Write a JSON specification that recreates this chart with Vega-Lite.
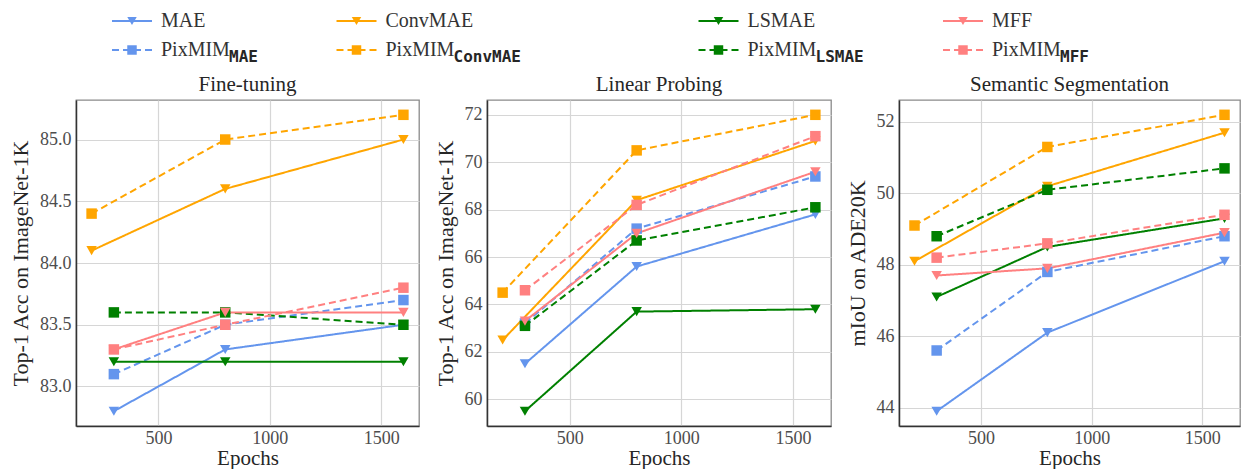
{
  "$schema": "https://vega.github.io/schema/vega-lite/v6.json",
  "background": "white",
  "padding": {"left": 8, "top": 0, "right": 0, "bottom": 0},
  "datasets": {
    "legend": [
      {"family": "MAE", "variant": "base", "label": "MAE", "sub": ""},
      {"family": "ConvMAE", "variant": "base", "label": "ConvMAE", "sub": ""},
      {"family": "LSMAE", "variant": "base", "label": "LSMAE", "sub": ""},
      {"family": "MFF", "variant": "base", "label": "MFF", "sub": ""},
      {"family": "MAE", "variant": "PixMIM", "label": "PixMIM", "sub": "MAE"},
      {"family": "ConvMAE", "variant": "PixMIM", "label": "PixMIM", "sub": "ConvMAE"},
      {"family": "LSMAE", "variant": "PixMIM", "label": "PixMIM", "sub": "LSMAE"},
      {"family": "MFF", "variant": "PixMIM", "label": "PixMIM", "sub": "MFF"}
    ],
    "vals": [
      {"task": "ft", "family": "MAE", "variant": "base", "epoch": 300, "value": 82.8},
      {"task": "ft", "family": "MAE", "variant": "base", "epoch": 800, "value": 83.3},
      {"task": "ft", "family": "MAE", "variant": "base", "epoch": 1600, "value": 83.5},
      {"task": "ft", "family": "MAE", "variant": "PixMIM", "epoch": 300, "value": 83.1},
      {"task": "ft", "family": "MAE", "variant": "PixMIM", "epoch": 800, "value": 83.5},
      {"task": "ft", "family": "MAE", "variant": "PixMIM", "epoch": 1600, "value": 83.7},
      {"task": "ft", "family": "ConvMAE", "variant": "base", "epoch": 200, "value": 84.1},
      {"task": "ft", "family": "ConvMAE", "variant": "base", "epoch": 800, "value": 84.6},
      {"task": "ft", "family": "ConvMAE", "variant": "base", "epoch": 1600, "value": 85.0},
      {"task": "ft", "family": "ConvMAE", "variant": "PixMIM", "epoch": 200, "value": 84.4},
      {"task": "ft", "family": "ConvMAE", "variant": "PixMIM", "epoch": 800, "value": 85.0},
      {"task": "ft", "family": "ConvMAE", "variant": "PixMIM", "epoch": 1600, "value": 85.2},
      {"task": "ft", "family": "LSMAE", "variant": "base", "epoch": 300, "value": 83.2},
      {"task": "ft", "family": "LSMAE", "variant": "base", "epoch": 800, "value": 83.2},
      {"task": "ft", "family": "LSMAE", "variant": "base", "epoch": 1600, "value": 83.2},
      {"task": "ft", "family": "LSMAE", "variant": "PixMIM", "epoch": 300, "value": 83.6},
      {"task": "ft", "family": "LSMAE", "variant": "PixMIM", "epoch": 800, "value": 83.6},
      {"task": "ft", "family": "LSMAE", "variant": "PixMIM", "epoch": 1600, "value": 83.5},
      {"task": "ft", "family": "MFF", "variant": "base", "epoch": 300, "value": 83.3},
      {"task": "ft", "family": "MFF", "variant": "base", "epoch": 800, "value": 83.6},
      {"task": "ft", "family": "MFF", "variant": "base", "epoch": 1600, "value": 83.6},
      {"task": "ft", "family": "MFF", "variant": "PixMIM", "epoch": 300, "value": 83.3},
      {"task": "ft", "family": "MFF", "variant": "PixMIM", "epoch": 800, "value": 83.5},
      {"task": "ft", "family": "MFF", "variant": "PixMIM", "epoch": 1600, "value": 83.8},

      {"task": "lp", "family": "MAE", "variant": "base", "epoch": 300, "value": 61.5},
      {"task": "lp", "family": "MAE", "variant": "base", "epoch": 800, "value": 65.6},
      {"task": "lp", "family": "MAE", "variant": "base", "epoch": 1600, "value": 67.8},
      {"task": "lp", "family": "MAE", "variant": "PixMIM", "epoch": 300, "value": 63.2},
      {"task": "lp", "family": "MAE", "variant": "PixMIM", "epoch": 800, "value": 67.2},
      {"task": "lp", "family": "MAE", "variant": "PixMIM", "epoch": 1600, "value": 69.4},
      {"task": "lp", "family": "ConvMAE", "variant": "base", "epoch": 200, "value": 62.5},
      {"task": "lp", "family": "ConvMAE", "variant": "base", "epoch": 800, "value": 68.4},
      {"task": "lp", "family": "ConvMAE", "variant": "base", "epoch": 1600, "value": 70.9},
      {"task": "lp", "family": "ConvMAE", "variant": "PixMIM", "epoch": 200, "value": 64.5},
      {"task": "lp", "family": "ConvMAE", "variant": "PixMIM", "epoch": 800, "value": 70.5},
      {"task": "lp", "family": "ConvMAE", "variant": "PixMIM", "epoch": 1600, "value": 72.0},
      {"task": "lp", "family": "LSMAE", "variant": "base", "epoch": 300, "value": 59.5},
      {"task": "lp", "family": "LSMAE", "variant": "base", "epoch": 800, "value": 63.7},
      {"task": "lp", "family": "LSMAE", "variant": "base", "epoch": 1600, "value": 63.8},
      {"task": "lp", "family": "LSMAE", "variant": "PixMIM", "epoch": 300, "value": 63.1},
      {"task": "lp", "family": "LSMAE", "variant": "PixMIM", "epoch": 800, "value": 66.7},
      {"task": "lp", "family": "LSMAE", "variant": "PixMIM", "epoch": 1600, "value": 68.1},
      {"task": "lp", "family": "MFF", "variant": "base", "epoch": 300, "value": 63.3},
      {"task": "lp", "family": "MFF", "variant": "base", "epoch": 800, "value": 67.0},
      {"task": "lp", "family": "MFF", "variant": "base", "epoch": 1600, "value": 69.6},
      {"task": "lp", "family": "MFF", "variant": "PixMIM", "epoch": 300, "value": 64.6},
      {"task": "lp", "family": "MFF", "variant": "PixMIM", "epoch": 800, "value": 68.2},
      {"task": "lp", "family": "MFF", "variant": "PixMIM", "epoch": 1600, "value": 71.1},

      {"task": "seg", "family": "MAE", "variant": "base", "epoch": 300, "value": 43.9},
      {"task": "seg", "family": "MAE", "variant": "base", "epoch": 800, "value": 46.1},
      {"task": "seg", "family": "MAE", "variant": "base", "epoch": 1600, "value": 48.1},
      {"task": "seg", "family": "MAE", "variant": "PixMIM", "epoch": 300, "value": 45.6},
      {"task": "seg", "family": "MAE", "variant": "PixMIM", "epoch": 800, "value": 47.8},
      {"task": "seg", "family": "MAE", "variant": "PixMIM", "epoch": 1600, "value": 48.8},
      {"task": "seg", "family": "ConvMAE", "variant": "base", "epoch": 200, "value": 48.1},
      {"task": "seg", "family": "ConvMAE", "variant": "base", "epoch": 800, "value": 50.2},
      {"task": "seg", "family": "ConvMAE", "variant": "base", "epoch": 1600, "value": 51.7},
      {"task": "seg", "family": "ConvMAE", "variant": "PixMIM", "epoch": 200, "value": 49.1},
      {"task": "seg", "family": "ConvMAE", "variant": "PixMIM", "epoch": 800, "value": 51.3},
      {"task": "seg", "family": "ConvMAE", "variant": "PixMIM", "epoch": 1600, "value": 52.2},
      {"task": "seg", "family": "LSMAE", "variant": "base", "epoch": 300, "value": 47.1},
      {"task": "seg", "family": "LSMAE", "variant": "base", "epoch": 800, "value": 48.5},
      {"task": "seg", "family": "LSMAE", "variant": "base", "epoch": 1600, "value": 49.3},
      {"task": "seg", "family": "LSMAE", "variant": "PixMIM", "epoch": 300, "value": 48.8},
      {"task": "seg", "family": "LSMAE", "variant": "PixMIM", "epoch": 800, "value": 50.1},
      {"task": "seg", "family": "LSMAE", "variant": "PixMIM", "epoch": 1600, "value": 50.7},
      {"task": "seg", "family": "MFF", "variant": "base", "epoch": 300, "value": 47.7},
      {"task": "seg", "family": "MFF", "variant": "base", "epoch": 800, "value": 47.9},
      {"task": "seg", "family": "MFF", "variant": "base", "epoch": 1600, "value": 48.9},
      {"task": "seg", "family": "MFF", "variant": "PixMIM", "epoch": 300, "value": 48.2},
      {"task": "seg", "family": "MFF", "variant": "PixMIM", "epoch": 800, "value": 48.6},
      {"task": "seg", "family": "MFF", "variant": "PixMIM", "epoch": 1600, "value": 49.4}
    ]
  },
  "config": {
    "font": "Liberation Serif",
    "view": {"stroke": "#8a8a8a", "strokeWidth": 1.3},
    "title": {"font": "Liberation Serif", "fontSize": 21, "fontWeight": "normal", "color": "#262626", "offset": 5},
    "axis": {
      "labelFont": "Liberation Serif", "labelFontSize": 18, "labelColor": "#4d4d4d",
      "titleFont": "Liberation Serif", "titleFontSize": 22, "titleFontWeight": "normal", "titleColor": "#262626",
      "ticks": false, "tickSize": 0, "labelPadding": 5, "titlePadding": 7,
      "domainColor": "#333333", "domainWidth": 1.5,
      "gridColor": "#d6d6d6", "gridWidth": 1.2
    },
    "axisX": {"labelPadding": 3, "titlePadding": 0, "titleFontSize": 21},
    "line": {"strokeWidth": 2},
    "point": {"size": 110, "opacity": 1}
  },
  "spacing": 3,
  "vconcat": [
    {
      "data": {"name": "legend"},
      "spacing": 0,
      "bounds": "flush",
      "hconcat": [
        {
          "width": 112, "height": 70, "view": {"stroke": null},
          "transform": [{"filter": "datum.family == 'MAE'"}],
          "encoding": {
            "y": {"field": "variant", "type": "nominal", "scale": {"domain": ["base", "PixMIM"], "range": [21, 50], "padding": 0}, "axis": null},
            "color": {"field": "family", "type": "nominal", "scale": {"domain": ["MAE", "ConvMAE", "LSMAE", "MFF"], "range": ["#6495ed", "#ffa500", "#008000", "#ff8080"]}, "legend": null}
          },
          "layer": [
            {"mark": {"type": "point", "shape": "M-1,0L1,0", "size": 1600, "filled": false, "strokeWidth": 2}, "encoding": {"strokeDash": {"field": "variant", "type": "nominal", "scale": {"domain": ["base", "PixMIM"], "range": [[1, 0], [7, 4]]}, "legend": null}}},
            {"mark": {"type": "point", "filled": true, "size": 90}, "encoding": {"shape": {"field": "variant", "type": "nominal", "scale": {"domain": ["base", "PixMIM"], "range": ["triangle-down", "square"]}, "legend": null}}},
            {"mark": {"type": "text", "align": "left", "baseline": "middle", "dx": 29, "fontSize": 20}, "encoding": {"text": {"field": "label"}, "color": {"value": "#333333"}}},
            {"mark": {"type": "text", "align": "left", "baseline": "middle", "dx": 97, "dy": 7, "font": "DejaVu Sans Mono", "fontWeight": "bold", "fontSize": 16}, "encoding": {"text": {"field": "sub"}, "color": {"value": "#262626"}}}
          ]
        },
        {
          "width": 337, "height": 70, "view": {"stroke": null},
          "transform": [{"filter": "datum.family == 'ConvMAE'"}],
          "encoding": {
            "y": {"field": "variant", "type": "nominal", "scale": {"domain": ["base", "PixMIM"], "range": [21, 50], "padding": 0}, "axis": null},
            "color": {"field": "family", "type": "nominal", "scale": {"domain": ["MAE", "ConvMAE", "LSMAE", "MFF"], "range": ["#6495ed", "#ffa500", "#008000", "#ff8080"]}, "legend": null}
          },
          "layer": [
            {"mark": {"type": "point", "shape": "M-1,0L1,0", "size": 1600, "filled": false, "strokeWidth": 2}, "encoding": {"strokeDash": {"field": "variant", "type": "nominal", "scale": {"domain": ["base", "PixMIM"], "range": [[1, 0], [7, 4]]}, "legend": null}}},
            {"mark": {"type": "point", "filled": true, "size": 90}, "encoding": {"shape": {"field": "variant", "type": "nominal", "scale": {"domain": ["base", "PixMIM"], "range": ["triangle-down", "square"]}, "legend": null}}},
            {"mark": {"type": "text", "align": "left", "baseline": "middle", "dx": 29, "fontSize": 20}, "encoding": {"text": {"field": "label"}, "color": {"value": "#333333"}}},
            {"mark": {"type": "text", "align": "left", "baseline": "middle", "dx": 97, "dy": 7, "font": "DejaVu Sans Mono", "fontWeight": "bold", "fontSize": 16}, "encoding": {"text": {"field": "sub"}, "color": {"value": "#262626"}}}
          ]
        },
        {
          "width": 387, "height": 70, "view": {"stroke": null},
          "transform": [{"filter": "datum.family == 'LSMAE'"}],
          "encoding": {
            "y": {"field": "variant", "type": "nominal", "scale": {"domain": ["base", "PixMIM"], "range": [21, 50], "padding": 0}, "axis": null},
            "color": {"field": "family", "type": "nominal", "scale": {"domain": ["MAE", "ConvMAE", "LSMAE", "MFF"], "range": ["#6495ed", "#ffa500", "#008000", "#ff8080"]}, "legend": null}
          },
          "layer": [
            {"mark": {"type": "point", "shape": "M-1,0L1,0", "size": 1600, "filled": false, "strokeWidth": 2}, "encoding": {"strokeDash": {"field": "variant", "type": "nominal", "scale": {"domain": ["base", "PixMIM"], "range": [[1, 0], [7, 4]]}, "legend": null}}},
            {"mark": {"type": "point", "filled": true, "size": 90}, "encoding": {"shape": {"field": "variant", "type": "nominal", "scale": {"domain": ["base", "PixMIM"], "range": ["triangle-down", "square"]}, "legend": null}}},
            {"mark": {"type": "text", "align": "left", "baseline": "middle", "dx": 29, "fontSize": 20}, "encoding": {"text": {"field": "label"}, "color": {"value": "#333333"}}},
            {"mark": {"type": "text", "align": "left", "baseline": "middle", "dx": 97, "dy": 7, "font": "DejaVu Sans Mono", "fontWeight": "bold", "fontSize": 16}, "encoding": {"text": {"field": "sub"}, "color": {"value": "#262626"}}}
          ]
        },
        {
          "width": 102, "height": 70, "view": {"stroke": null},
          "transform": [{"filter": "datum.family == 'MFF'"}],
          "encoding": {
            "y": {"field": "variant", "type": "nominal", "scale": {"domain": ["base", "PixMIM"], "range": [21, 50], "padding": 0}, "axis": null},
            "color": {"field": "family", "type": "nominal", "scale": {"domain": ["MAE", "ConvMAE", "LSMAE", "MFF"], "range": ["#6495ed", "#ffa500", "#008000", "#ff8080"]}, "legend": null}
          },
          "layer": [
            {"mark": {"type": "point", "shape": "M-1,0L1,0", "size": 1600, "filled": false, "strokeWidth": 2}, "encoding": {"strokeDash": {"field": "variant", "type": "nominal", "scale": {"domain": ["base", "PixMIM"], "range": [[1, 0], [7, 4]]}, "legend": null}}},
            {"mark": {"type": "point", "filled": true, "size": 90}, "encoding": {"shape": {"field": "variant", "type": "nominal", "scale": {"domain": ["base", "PixMIM"], "range": ["triangle-down", "square"]}, "legend": null}}},
            {"mark": {"type": "text", "align": "left", "baseline": "middle", "dx": 29, "fontSize": 20}, "encoding": {"text": {"field": "label"}, "color": {"value": "#333333"}}},
            {"mark": {"type": "text", "align": "left", "baseline": "middle", "dx": 97, "dy": 7, "font": "DejaVu Sans Mono", "fontWeight": "bold", "fontSize": 16}, "encoding": {"text": {"field": "sub"}, "color": {"value": "#262626"}}}
          ]
        }
      ]
    },
    {
      "data": {"name": "vals"},
      "spacing": 68,
      "bounds": "flush",
      "resolve": {"scale": {"y": "independent"}},
      "hconcat": [
        {
          "width": 343, "height": 326,
          "title": "Fine-tuning",
          "transform": [{"filter": "datum.task == 'ft'"}],
          "encoding": {
            "x": {"field": "epoch", "type": "quantitative", "scale": {"domain": [130, 1670], "nice": false, "zero": false}, "axis": {"values": [500, 1000, 1500], "format": "d", "title": "Epochs"}},
            "y": {"field": "value", "type": "quantitative", "scale": {"domain": [82.68, 85.32], "nice": false, "zero": false}, "axis": {"values": [83.0, 83.5, 84.0, 84.5, 85.0], "format": ".1f", "title": "Top-1 Acc on ImageNet-1K"}},
            "color": {"field": "family", "type": "nominal", "scale": {"domain": ["MAE", "ConvMAE", "LSMAE", "MFF"], "range": ["#6495ed", "#ffa500", "#008000", "#ff8080"]}, "legend": null}
          },
          "layer": [
            {"mark": {"type": "line", "strokeWidth": 2}, "encoding": {"strokeDash": {"field": "variant", "type": "nominal", "scale": {"domain": ["base", "PixMIM"], "range": [[1, 0], [7, 4]]}, "legend": null}}},
            {"mark": {"type": "point", "filled": true}, "encoding": {"shape": {"field": "variant", "type": "nominal", "scale": {"domain": ["base", "PixMIM"], "range": ["triangle-down", "square"]}, "legend": null}}}
          ]
        },
        {
          "width": 344, "height": 326,
          "title": "Linear Probing",
          "transform": [{"filter": "datum.task == 'lp'"}],
          "encoding": {
            "x": {"field": "epoch", "type": "quantitative", "scale": {"domain": [130, 1670], "nice": false, "zero": false}, "axis": {"values": [500, 1000, 1500], "format": "d", "title": "Epochs"}},
            "y": {"field": "value", "type": "quantitative", "scale": {"domain": [58.875, 72.625], "nice": false, "zero": false}, "axis": {"values": [60, 62, 64, 66, 68, 70, 72], "title": "Top-1 Acc on ImageNet-1K"}},
            "color": {"field": "family", "type": "nominal", "scale": {"domain": ["MAE", "ConvMAE", "LSMAE", "MFF"], "range": ["#6495ed", "#ffa500", "#008000", "#ff8080"]}, "legend": null}
          },
          "layer": [
            {"mark": {"type": "line", "strokeWidth": 2}, "encoding": {"strokeDash": {"field": "variant", "type": "nominal", "scale": {"domain": ["base", "PixMIM"], "range": [[1, 0], [7, 4]]}, "legend": null}}},
            {"mark": {"type": "point", "filled": true}, "encoding": {"shape": {"field": "variant", "type": "nominal", "scale": {"domain": ["base", "PixMIM"], "range": ["triangle-down", "square"]}, "legend": null}}}
          ]
        },
        {
          "width": 341, "height": 326,
          "title": "Semantic Segmentation",
          "transform": [{"filter": "datum.task == 'seg'"}],
          "encoding": {
            "x": {"field": "epoch", "type": "quantitative", "scale": {"domain": [130, 1670], "nice": false, "zero": false}, "axis": {"values": [500, 1000, 1500], "format": "d", "title": "Epochs"}},
            "y": {"field": "value", "type": "quantitative", "scale": {"domain": [43.485, 52.615], "nice": false, "zero": false}, "axis": {"values": [44, 46, 48, 50, 52], "title": "mIoU on ADE20K"}},
            "color": {"field": "family", "type": "nominal", "scale": {"domain": ["MAE", "ConvMAE", "LSMAE", "MFF"], "range": ["#6495ed", "#ffa500", "#008000", "#ff8080"]}, "legend": null}
          },
          "layer": [
            {"mark": {"type": "line", "strokeWidth": 2}, "encoding": {"strokeDash": {"field": "variant", "type": "nominal", "scale": {"domain": ["base", "PixMIM"], "range": [[1, 0], [7, 4]]}, "legend": null}}},
            {"mark": {"type": "point", "filled": true}, "encoding": {"shape": {"field": "variant", "type": "nominal", "scale": {"domain": ["base", "PixMIM"], "range": ["triangle-down", "square"]}, "legend": null}}}
          ]
        }
      ]
    }
  ]
}
